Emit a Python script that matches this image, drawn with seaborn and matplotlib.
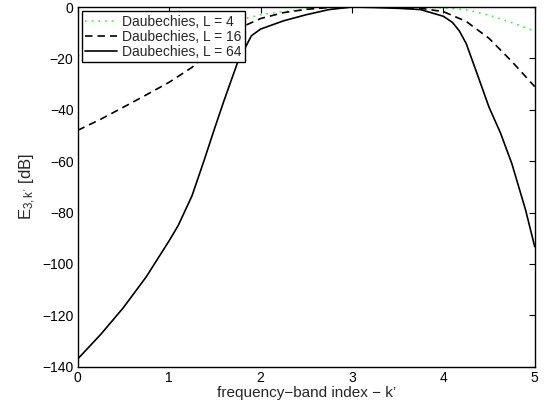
import numpy as np
import pandas as pd
import seaborn as sns
import matplotlib.pyplot as plt

# values
x_l4 = [0, 0.25, 0.5, 0.75, 1, 1.25, 1.5, 1.75, 2, 2.25, 2.5, 2.75, 3,
        3.25, 3.5, 3.75, 4, 4.25, 4.5, 4.75, 5]
e_l4 = [-19, -17, -15, -13, -11.2, -9.4, -7.6, -5.3, -3.0, -1.8, -0.8, -0.2, 0,
        0, 0, -0.05, -0.3, -1.1, -3.2, -6.1, -9.4]

x_l16 = [0, 0.25, 0.5, 0.75, 1, 1.25, 1.5, 1.75, 2, 2.25, 2.5, 2.75, 3,
         3.25, 3.5, 3.75, 4, 4.25, 4.5, 4.75, 5]
e_l16 = [-48, -43.7, -39, -34.2, -29.3, -23.5, -16, -8.5, -4.5, -2.2, -0.9, -0.2, 0,
         0, -0.2, -0.5, -1.8, -5.6, -12.2, -21.2, -31]

x_l64 = [0, 0.25, 0.5, 0.75, 1, 1.1, 1.25, 1.375, 1.5, 1.6, 1.75, 1.9, 2, 2.25, 2.5,
         2.75, 3, 3.25, 3.5, 3.75, 4, 4.1, 4.175, 4.25, 4.375, 4.5, 4.625, 4.75,
         4.9, 5]
e_l64 = [-137, -127.5, -117, -105, -91, -85, -73.5, -60.5, -47, -36.5, -21.5, -11.2,
         -8.6, -5.4, -3.0, -1.0, 0, -0.2, -0.5, -1.0, -3.6, -6.0, -9.3, -14.2,
         -26.5, -39, -49, -61, -79, -93.3]

labels = ['Daubechies, L = 4', 'Daubechies, L = 16', 'Daubechies, L = 64']

df = pd.concat([
    pd.DataFrame({'k': x_l4, 'E': e_l4, 'filter': labels[0]}),
    pd.DataFrame({'k': x_l16, 'E': e_l16, 'filter': labels[1]}),
    pd.DataFrame({'k': x_l64, 'E': e_l64, 'filter': labels[2]}),
])

sns.set_style('white')
plt.rcParams['font.family'] = ['Liberation Sans', 'DejaVu Sans']
plt.rcParams['mathtext.fontset'] = 'custom'
plt.rcParams['mathtext.rm'] = 'Liberation Sans'
plt.rcParams['mathtext.it'] = 'Liberation Sans'

fig = plt.figure(figsize=(5.54, 4.05), dpi=100)
ax = fig.add_axes([0.1403, 0.0946, 0.8249, 0.8881])

styles = {labels[0]: dict(color='#44ee44', ls=(0, (1, 3)), lw=1.2),
          labels[1]: dict(color='black', ls=(0, (4.5, 3)), lw=1.2),
          labels[2]: dict(color='black', ls='-', lw=1.2)}

for lab in labels:
    sub = df[df['filter'] == lab]
    sns.lineplot(data=sub, x='k', y='E', ax=ax, label=lab, estimator=None,
                 sort=False, color=styles[lab]['color'],
                 linestyle=styles[lab]['ls'], linewidth=styles[lab]['lw'])

ax.set_xlim(0, 5)
ax.set_ylim(-140, 0)
ax.set_xticks(range(0, 6))
ax.set_yticks(range(-140, 1, 20))
ax.tick_params(direction='in', length=4, width=0.8, top=True, right=True,
               labelsize=10, colors='black', pad=3)
for s in ax.spines.values():
    s.set_visible(True)
    s.set_color('black')
    s.set_linewidth(1.0)

ax.set_xlabel("frequency\u2212band index \u2212 k\u2019", fontsize=11, labelpad=1)
ax.set_ylabel("E$_{3,k'}$ [dB]", fontsize=12, labelpad=3)

leg = ax.legend(loc='upper left', fontsize=10, frameon=True, fancybox=False,
                framealpha=1, edgecolor='black', borderpad=0.25,
                labelspacing=0.08, handlelength=2.3, handletextpad=0.35,
                borderaxespad=0.3)
leg.get_frame().set_linewidth(1.0)

fig.savefig('out.png', dpi=100)
